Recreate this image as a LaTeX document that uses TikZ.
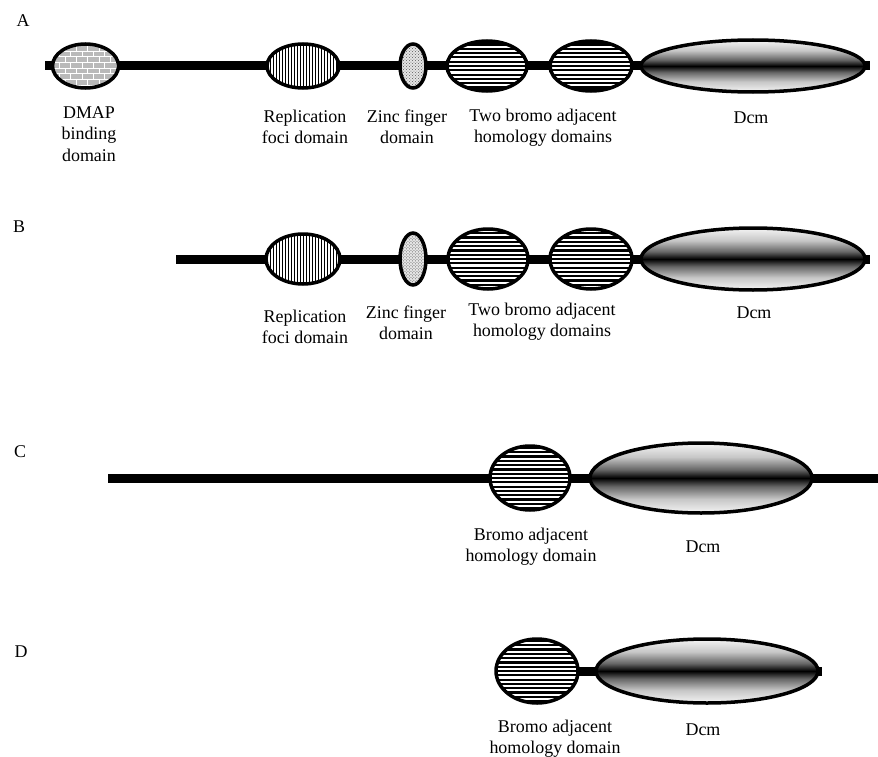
\documentclass[tikz,border=0pt]{standalone}
\usepackage{fontspec}
\setmainfont{Liberation Serif}
\usetikzlibrary{shapes.geometric,patterns}
\pgfdeclareverticalshading{dcmshade}{100bp}{color(0bp)=(white); color(25bp)=(white!96!black); color(35bp)=(black!22); color(44bp)=(black!60); color(50bp)=(black); color(56bp)=(black!60); color(65bp)=(black!22); color(75bp)=(white!96!black); color(100bp)=(white)}
\begin{document}
\begin{tikzpicture}[x=1bp,y=-1bp,
  dom/.style={ellipse, draw, line width=3.5bp, inner sep=0pt, outer sep=-1.5bp},
  backbone/.style={line width=9bp},
  bricky/.style={preaction={fill=gray!55}, pattern=bricks, pattern color=white},
  vlines/.style={fill=white, path picture={
      \foreach \k in {-14,...,14}{
        \draw[line width=1bp] ([xshift=\k*3bp]path picture bounding box.north) -- ([xshift=\k*3bp]path picture bounding box.south);}}},
  hlines/.style={fill=white, path picture={
      \foreach \k in {-9,...,9}{
        \draw[line width=2.2bp] ([yshift=\k*4.3bp]path picture bounding box.west) -- ([yshift=\k*4.3bp]path picture bounding box.east);}}},
  dots/.style={preaction={fill=gray!20}, pattern=crosshatch dots, pattern color=gray!70!black},
  dcmbox/.style={shade, shading=dcmshade},
  lab/.style={align=center, inner sep=0pt, font=\fontsize{18}{21.5}\selectfont, anchor=base},
  letter/.style={inner sep=0pt, font=\fontsize{18}{22}\selectfont, anchor=base}]
\useasboundingbox[fill=white] (0,0) rectangle (878,757);

% ---------- A ----------
\node[letter] (LA) at (23,27) {A};
\coordinate (As) at (45,66);
\coordinate (Ae) at (870,66);
\node[dom, bricky, minimum width=66bp, minimum height=44bp] (Admap) at (85.5,66) {};
\node[dom, vlines, minimum width=72bp, minimum height=44bp] (Arep) at (303,66) {};
\node[dom, dots, minimum width=26bp, minimum height=44bp] (Azinc) at (413,66) {};
\node[dom, hlines, minimum width=80bp, minimum height=50bp] (Ab1) at (487,66) {};
\node[dom, hlines, minimum width=82bp, minimum height=50bp] (Ab2) at (591,66) {};
\node[dom, dcmbox, minimum width=224bp, minimum height=52bp] (Adcm) at (753,66) {};
\draw[backbone] (As) -- (Admap) -- (Arep) -- (Azinc) -- (Ab1) -- (Ab2) -- (Adcm) -- (Ae);
\node[lab] (tA1) at (89,161) {DMAP\\binding\\domain};
\node[lab] (tA2) at (305,143.5) {Replication\\foci domain};
\node[lab] (tA3) at (407,143.5) {Zinc finger\\domain};
\node[lab] (tA4) at (543,142.5) {Two bromo adjacent\\homology domains};
\node[lab] (tA5) at (751,123) {Dcm};

% ---------- B ----------
\node[letter] (LB) at (19,232) {B};
\coordinate (Bs) at (176,259);
\coordinate (Be) at (870,259);
\node[dom, vlines, minimum width=74bp, minimum height=50bp] (Brep) at (303,259) {};
\node[dom, dots, minimum width=26bp, minimum height=52bp] (Bzinc) at (413,259) {};
\node[dom, hlines, minimum width=80bp, minimum height=60bp] (Bb1) at (488,259) {};
\node[dom, hlines, minimum width=82bp, minimum height=60bp] (Bb2) at (591,259) {};
\node[dom, dcmbox, minimum width=224bp, minimum height=62bp] (Bdcm) at (753,259) {};
\draw[backbone] (Bs) -- (Brep) -- (Bzinc) -- (Bb1) -- (Bb2) -- (Bdcm) -- (Be);
\node[lab] (tB2) at (305,343.5) {Replication\\foci domain};
\node[lab] (tB3) at (406,339.5) {Zinc finger\\domain};
\node[lab] (tB4) at (542,336.5) {Two bromo adjacent\\homology domains};
\node[lab] (tB5) at (754,318) {Dcm};

% ---------- C ----------
\node[letter] (LC) at (20,457) {C};
\coordinate (Cs) at (108,478);
\coordinate (Ce) at (878,478);
\node[dom, hlines, minimum width=80bp, minimum height=64bp] (Cb) at (530,478) {};
\node[dom, dcmbox, minimum width=222bp, minimum height=70bp] (Cdcm) at (701,478) {};
\draw[backbone] (Cs) -- (Cb) -- (Cdcm) -- (Ce);
\node[lab] (tC1) at (531,561.5) {Bromo adjacent\\homology domain};
\node[lab] (tC2) at (703,552) {Dcm};

% ---------- D ----------
\node[letter] (LD) at (21,657) {D};
\coordinate (De) at (822,671);
\node[dom, hlines, minimum width=82bp, minimum height=64bp] (Db) at (537,671) {};
\node[dom, dcmbox, minimum width=222bp, minimum height=64bp] (Ddcm) at (707,671) {};
\draw[backbone] (Db) -- (Ddcm) -- (De);
\node[lab] (tD1) at (555,753.5) {Bromo adjacent\\homology domain};
\node[lab] (tD2) at (703,735) {Dcm};
\end{tikzpicture}
\end{document}
